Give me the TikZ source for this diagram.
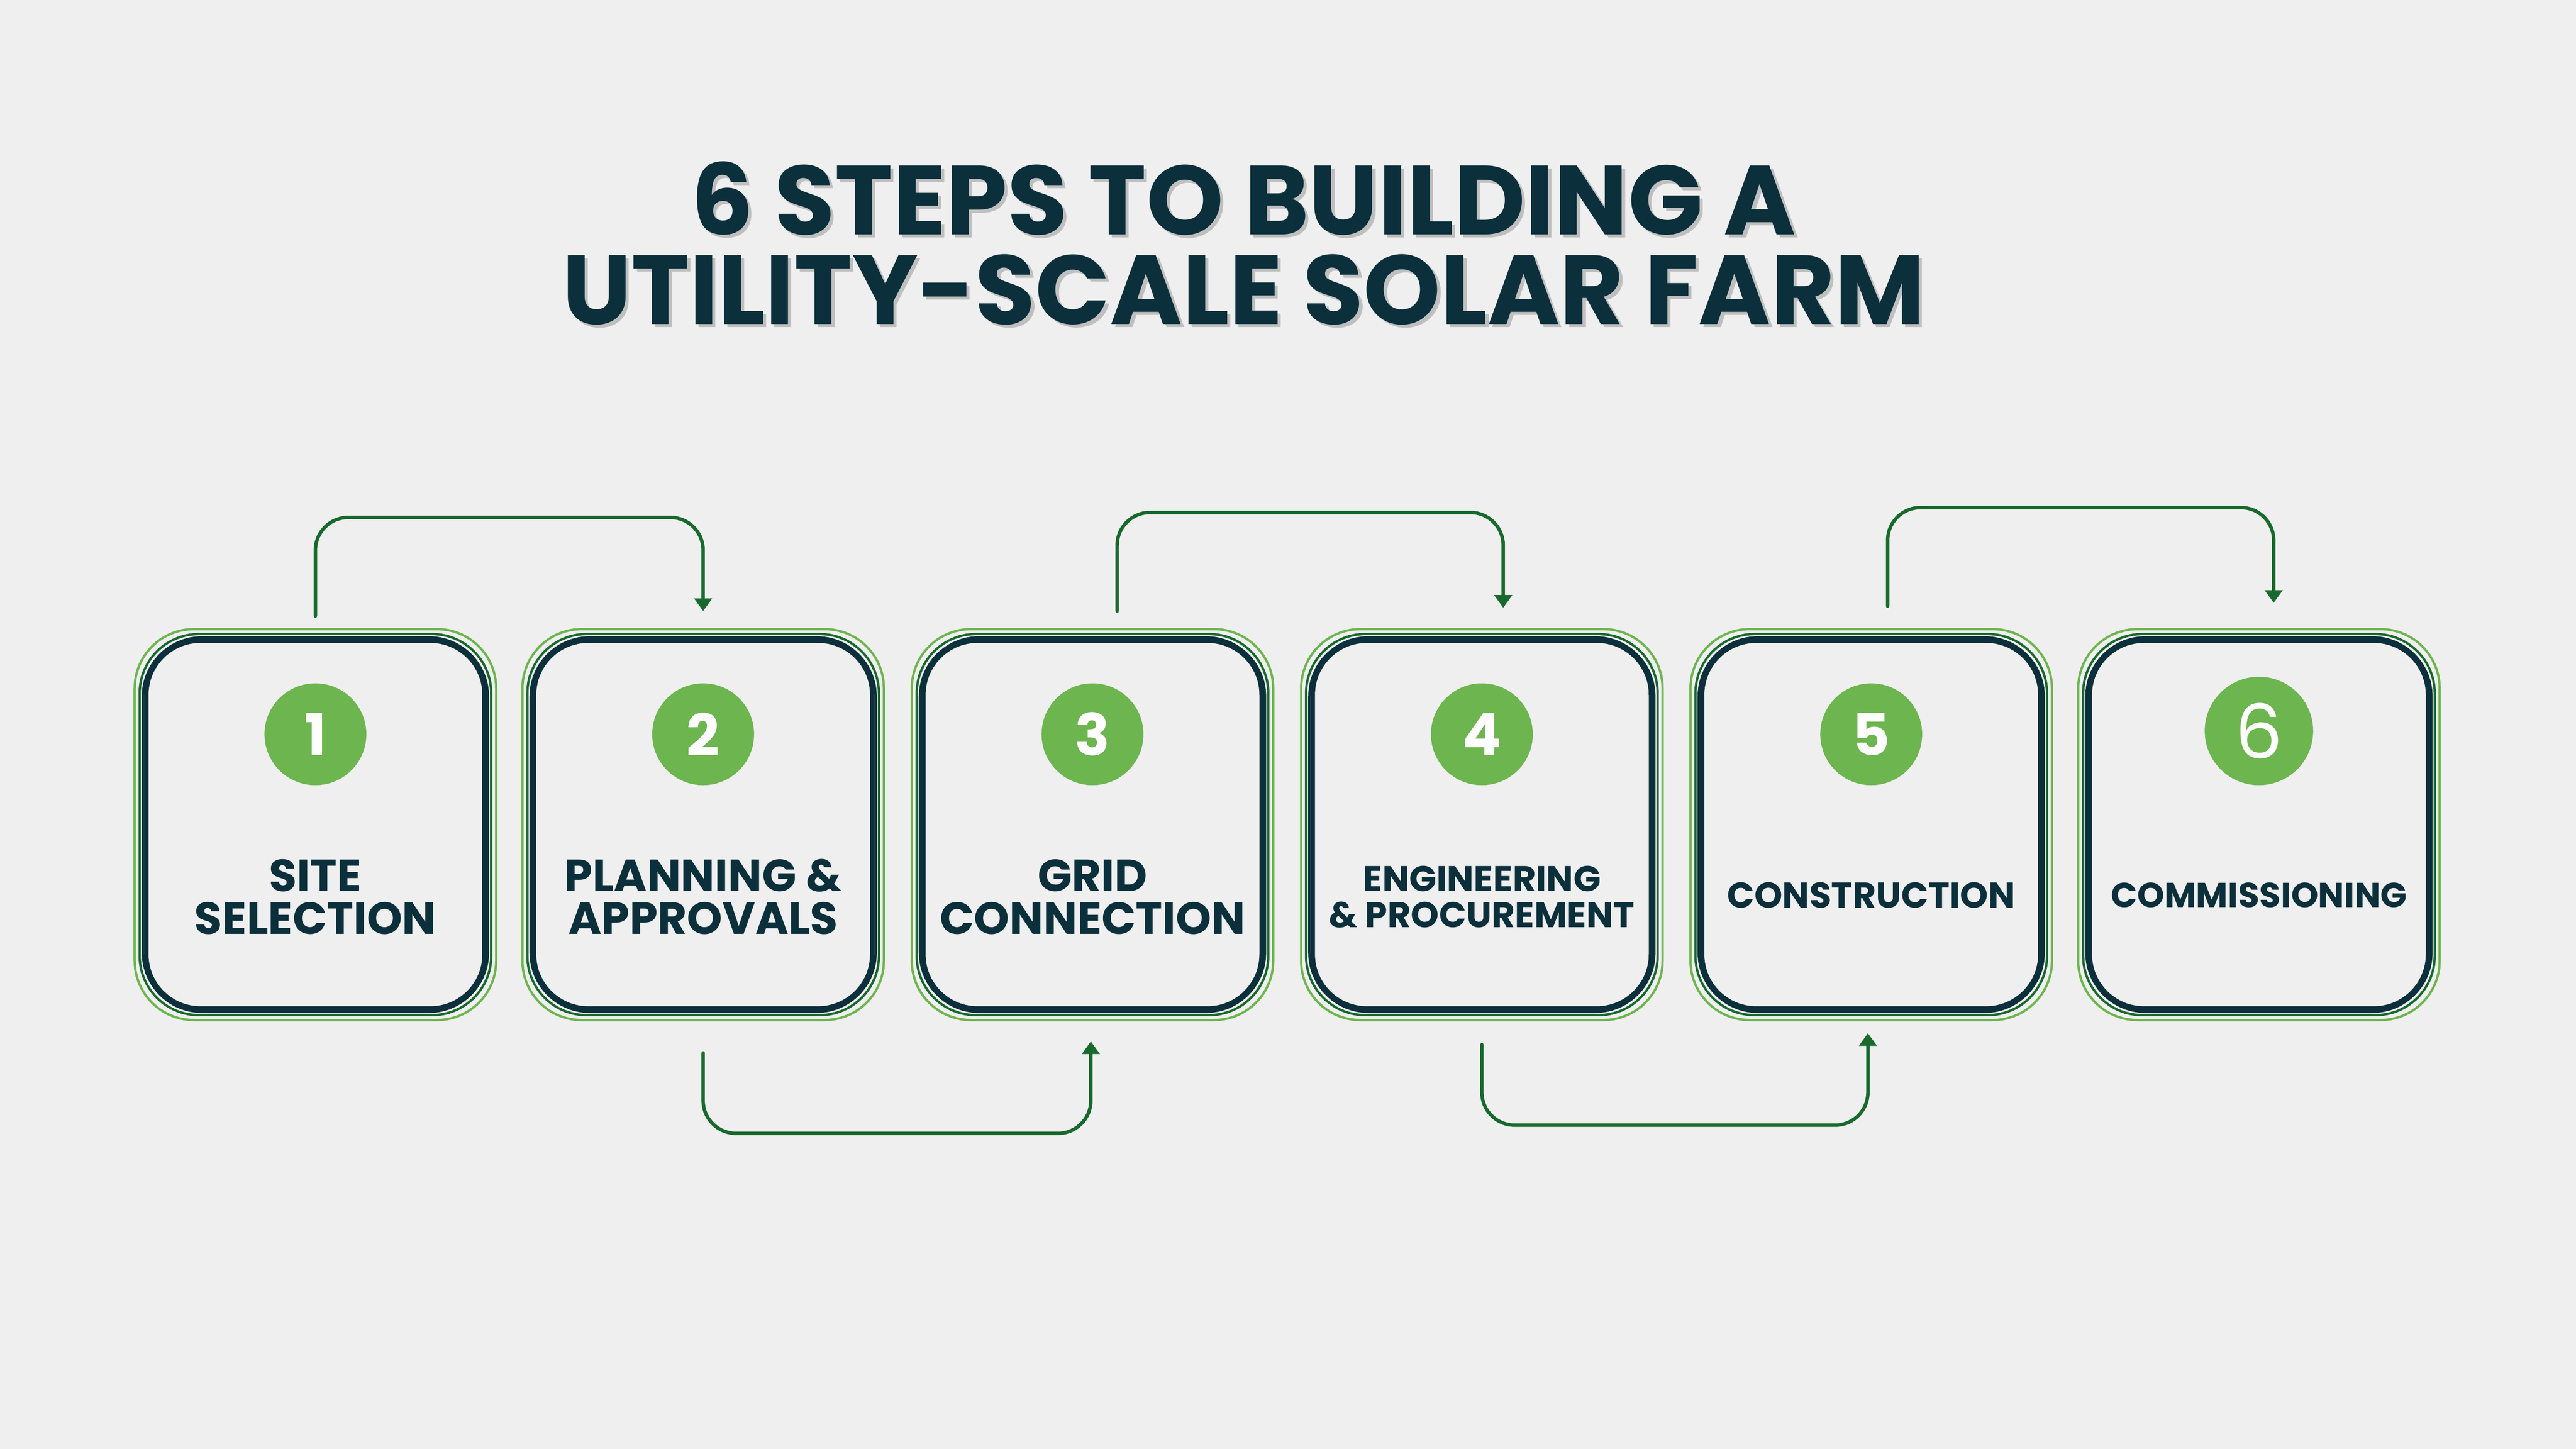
\documentclass[tikz,border=0pt]{standalone}
\usepackage{fontspec}
\setmainfont{Poppins}
\usetikzlibrary{arrows.meta}
\definecolor{bgc}{HTML}{EFEFEF}
\definecolor{navy}{HTML}{0B2F3B}
\definecolor{leaf}{HTML}{6DB54E}
\definecolor{pine}{HTML}{17692C}
\begin{document}
\begin{tikzpicture}[%
        x = 0.1mm,
        y = -0.1mm,
        line cap = round,
        frame/.style = {
            draw,
            rounded corners = 3.6mm,
            minimum width = #1,
            inner sep = 0pt
        },
        badge/.style = {
            circle,
            fill = leaf,
            text = white,
            minimum size = 6.2mm,
            inner sep = 0pt,
            font = \fontsize{10}{10}\selectfont\bfseries
        },
        label/.style = {
            text = navy,
            align = center,
            font = \fontsize{7.8}{7.4}\selectfont\bfseries
        },
        flow/.style = {
            draw = pine,
            line width = 0.6pt,
            rounded corners = 2mm,
            -{Triangle[length=2.2pt, width=3pt]}
        }
    ]

        % Page background.
        \fill[bgc] (0,0) rectangle (1568,882);
        \useasboundingbox (0,0) rectangle (1568,882);

        % Title with a soft shadow.
        \foreach \dx/\col in {2/black!25, 0/navy} {
            \node[text = \col, align = center,
                  font = \fontsize{17}{15.5}\selectfont\bfseries]
                at (757+\dx, 148+\dx) {6 STEPS TO BUILDING A\\UTILITY-SCALE SOLAR FARM};
        }

        % The six step boxes.
        \foreach \i/\x in {1/192, 2/428, 3/665, 4/902, 5/1139, 6/1375} {
            \node[frame = 22mm, minimum height = 23.8mm, draw = leaf, line width = 0.4pt] (o\i) at (\x,502) {};
            \node[frame = 21.4mm, minimum height = 23.2mm, draw = pine, line width = 0.4pt] (m\i) at (\x,502) {};
            \node[frame = 21mm, minimum height = 22.8mm, draw = navy, line width = 0.4pt] (n\i) at (\x,502) {};
            \node[frame = 20.6mm, minimum height = 22.4mm, draw = navy, line width = 0.8pt,
                  rounded corners = 3.3mm] (b\i) at (\x,502) {};
        }
        \foreach \i/\x in {1/192, 2/428, 3/665, 4/902, 5/1139} {
            \node[badge] (c\i) at (\x,447) {\i};
        }
        \node[badge, minimum size = 6.6mm, font = \fontsize{13}{13}\selectfont] (c6) at (1375,445) {6};

        % Step labels.
        \node[label] (t1) at (192,546) {SITE\\SELECTION};
        \node[label] (t2) at (428,546) {PLANNING \&\\APPROVALS};
        \node[label] (t3) at (665,546) {GRID\\CONNECTION};
        \node[label, font = \fontsize{6.2}{6.2}\selectfont\bfseries] (t4) at (902,546) {ENGINEERING\\\& PROCUREMENT};
        \node[label, font = \fontsize{6.2}{6.2}\selectfont\bfseries] (t5) at (1139,545) {CONSTRUCTION};
        \node[label, font = \fontsize{6.0}{6.0}\selectfont\bfseries] (t6) at (1375,545) {COMMISSIONING};

        % End points of the connectors.
        \coordinate (s1) at (192,375);
        \coordinate (e2) at (428,372);
        \coordinate (s2) at (428,641);
        \coordinate (e3) at (664,634);
        \coordinate (s3) at (680,372);
        \coordinate (e4) at (915,370);
        \coordinate (s4) at (902,636);
        \coordinate (e5) at (1137,629);
        \coordinate (s5) at (1149,369);
        \coordinate (e6) at (1384,367);

        % Connectors between steps.
        \draw[flow] (s1) -- (192,315) -- (428,315) -- (e2);
        \draw[flow] (s2) -- (428,690) -- (664,690) -- (e3);
        \draw[flow] (s3) -- (680,312) -- (915,312) -- (e4);
        \draw[flow] (s4) -- (902,685) -- (1137,685) -- (e5);
        \draw[flow] (s5) -- (1149,309) -- (1384,309) -- (e6);
    \end{tikzpicture}
\end{document}
